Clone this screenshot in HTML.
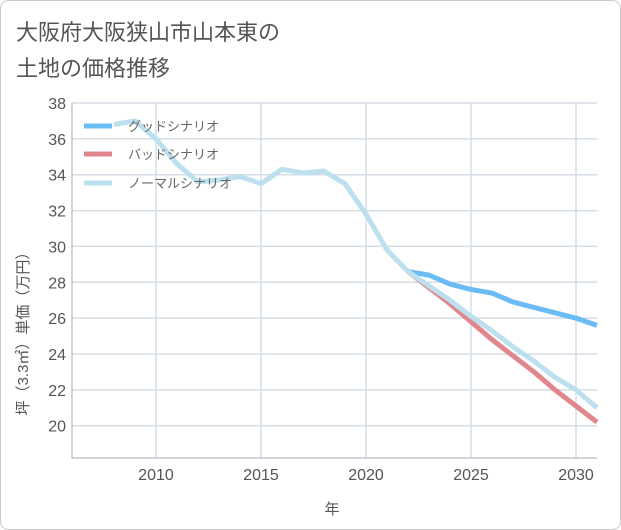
<!DOCTYPE html>
<html><head><meta charset="utf-8"><style>
body{margin:0;background:#fff}
svg{display:block;font-family:"Liberation Sans","Noto Sans CJK JP",sans-serif}
</style></head><body>
<svg id="c" width="621" height="530">
<rect x="0.5" y="0.5" width="620" height="529" rx="8" fill="#fff" stroke="#ccc"/>
<text x="16" y="40" font-size="22" fill="#555">大阪府大阪狭山市山本東の</text>
<text x="16" y="76" font-size="22" fill="#555">土地の価格推移</text>
<g id="grid"></g><g id="lines"></g>
<g id="legend">
<line x1="84" y1="126" x2="112" y2="126" stroke="#6bbcf5" stroke-width="5"/>
<text x="128" y="131" font-size="13" fill="#666">グッドシナリオ</text>
<line x1="84" y1="154" x2="112" y2="154" stroke="#e0878e" stroke-width="5"/>
<text x="128" y="159" font-size="13" fill="#666">バッドシナリオ</text>
<line x1="84" y1="183" x2="112" y2="183" stroke="#bde0ee" stroke-width="5"/>
<text x="128" y="188" font-size="13" fill="#666">ノーマルシナリオ</text>
</g>
<text x="332" y="514" font-size="15" fill="#555" text-anchor="middle">年</text>
<text transform="translate(28,330) rotate(-90)" font-size="15" fill="#555" text-anchor="middle">坪（3.3㎡）単価（万円）</text>
</svg>
<script>
const normalYears=[2008,2009,2010,2011,2012,2013,2014,2015,2016,2017,2018,2019,2020,2021,2022,2023,2024,2025,2026,2027,2028,2029,2030,2031];
const normalValues=[36.8,37.0,36.0,34.6,33.6,33.7,33.9,33.5,34.3,34.1,34.2,33.5,31.8,29.8,28.6,27.8,27.0,26.1,25.3,24.4,23.6,22.7,22.0,21.0];
const scenarioYears=[2022,2023,2024,2025,2026,2027,2028,2029,2030,2031];
const goodValues=[28.6,28.4,27.9,27.6,27.4,26.9,26.6,26.3,26.0,25.6];
const badValues=[28.6,27.7,26.8,25.8,24.8,23.9,23.0,22.0,21.1,20.2];
const xTicks=[2010,2015,2020,2025,2030];
const yTicks=[20,22,24,26,28,30,32,34,36,38];
const L=72,R=597,T=103,B=458,x0=2006,x1=2031,y0=18.2,y1=38;
const X=v=>L+(v-x0)/(x1-x0)*(R-L), Y=v=>B-(v-y0)/(y1-y0)*(B-T);
const ns="http://www.w3.org/2000/svg";
function mk(t,a,p){const e=document.createElementNS(ns,t);for(const k in a)e.setAttribute(k,a[k]);p.appendChild(e);return e;}
const g=document.getElementById('grid');
yTicks.forEach(v=>{const l=mk('line',{x1:L,x2:R,y1:Y(v),y2:Y(v),stroke:'#d5dde5','stroke-width':1.5},g);


const t=mk('text',{x:L-6,y:Y(v)+6,'font-size':16,fill:'#555','text-anchor':'end'},g);t.textContent=v;

});
xTicks.forEach(v=>{const l=mk('line',{x1:X(v),x2:X(v),y1:T,y2:B,stroke:'#d5dde5','stroke-width':1.5},g);


const t=mk('text',{x:X(v),y:B+22,'font-size':16,fill:'#555','text-anchor':'middle'},g);t.textContent=v;

});
const ax=mk('path',{d:`M${L},${T}V${B}H${R}`,fill:'none',stroke:'#aab','stroke-width':1},g);


const lg=document.getElementById('lines');
function line(xs,ys,c,n){const p=mk('path',{d:xs.map((x,i)=>(i?'L':'M')+X(x)+','+Y(ys[i])).join(''),fill:'none',stroke:c,'stroke-width':5,'stroke-linejoin':'round'},lg);

}
line(scenarioYears,goodValues,'#6bbcf5','good-scenario-line');
line(scenarioYears,badValues,'#e0878e','bad-scenario-line');
line(normalYears,normalValues,'#bde0ee','normal-scenario-line');
const svg=document.getElementById('c');svg.appendChild(document.getElementById('legend'));
</script>
</body></html>
